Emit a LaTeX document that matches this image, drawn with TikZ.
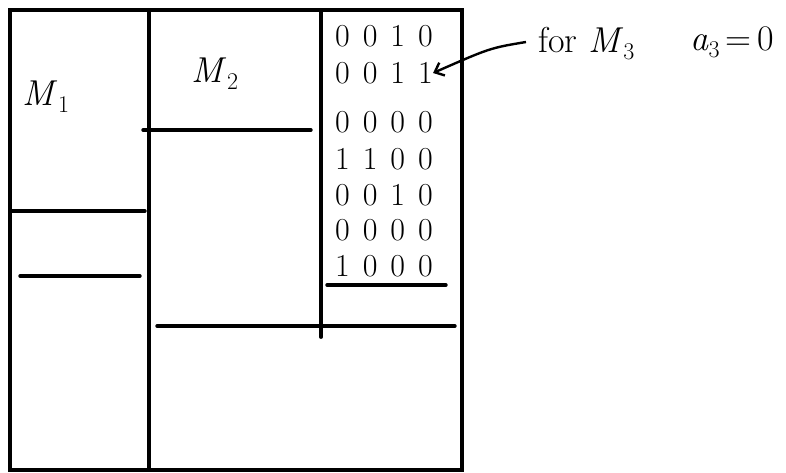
\documentclass[tikz,border=0pt]{standalone}
\usetikzlibrary{arrows.meta}
\newcommand{\bitrow}[4]{#1\hspace{13pt}#2\hspace{13pt}#3\hspace{13pt}#4}
\newcommand{\subsc}[1]{\raisebox{-7pt}{\fontsize{24}{24}\selectfont #1}}
\begin{document}
\begin{tikzpicture}[x=1pt,y=-1pt,
  frame/.style={line width=3.8pt,line cap=round},
  rule/.style={line width=3.4pt,line cap=round},
  bits/.style={font=\fontsize{32}{32}\selectfont,inner sep=0pt},
  lab/.style={font=\fontsize{36}{36}\selectfont,inner sep=0pt},
  ptr/.style={line width=2.4pt,-{Straight Barb[length=8pt,width=14pt]}}]
\useasboundingbox (0,0) rectangle (786,473);
% frame
\draw[frame] (10,10) rectangle (462,470);
\draw[frame] (149,12) -- (149,470);
\draw[frame] (321,12) -- (321,337);
% horizontal rules
\draw[rule] (12,211) -- (145,211);
\draw[rule] (20,276) -- (140,276);
\draw[rule] (143,130) -- (311,130);
\draw[rule] (157,326) -- (455,326);
\draw[rule] (327,285) -- (446,285);
% labels
\node[lab] (m1) at (46,97) {\textit{M}\subsc{1}};
\node[lab] (m2) at (215,74) {\textit{M}\subsc{2}};
\node[bits] (r1) at (384,36) {\bitrow0010};
\node[bits] (r2) at (384,73) {\bitrow0011};
\node[bits] (r3) at (384,122) {\bitrow0000};
\node[bits] (r4) at (384,159) {\bitrow1100};
\node[bits] (r5) at (384,195) {\bitrow0010};
\node[bits] (r6) at (384,230) {\bitrow0000};
\node[bits] (r7) at (384,266) {\bitrow1000};
\node[lab,anchor=west] (for) at (538,44) {for \textit{M}\subsc{3}};
\node[lab,anchor=west] (a3) at (690,42) {\textit{a}\subsc{3}\,=\,0};
\draw[ptr] (for.west) ++(-12,-2) coordinate (fs) .. controls (490,48) .. (r2.east);
\end{tikzpicture}
\end{document}
